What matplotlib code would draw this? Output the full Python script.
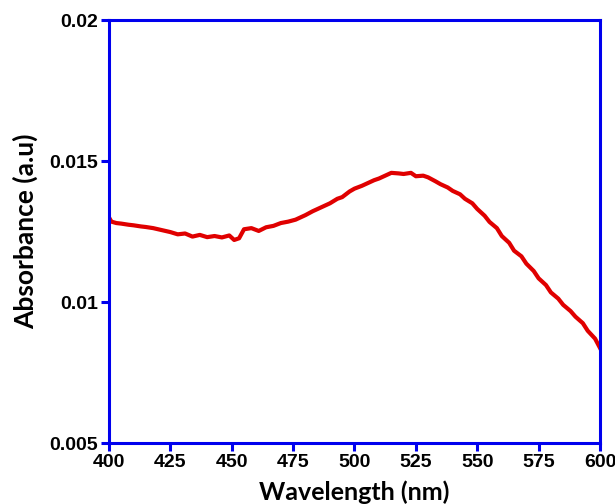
import matplotlib
matplotlib.use("Agg")
import matplotlib.pyplot as plt

# absorbance spectrum
wavelength = [400, 401, 403, 405, 408, 410, 413, 415, 418, 420, 423, 425, 428,
              431, 434, 437, 440, 443, 446, 449, 451, 453, 455, 458, 461, 464,
              467, 470, 473, 476, 478, 480, 483, 485, 488, 490, 493, 495, 498,
              500, 503, 505, 508, 510, 513, 515, 518, 520, 523, 525, 528, 530,
              533, 535, 538, 540, 543, 545, 548, 550, 553, 555, 558, 560, 563,
              565, 568, 570, 573, 575, 578, 580, 583, 585, 588, 590, 593, 595,
              598, 600]
absorbance = [0.01300, 0.01285, 0.01280, 0.01278, 0.01274, 0.01272, 0.01268,
              0.01266, 0.01262, 0.01258, 0.01252, 0.01248, 0.01240, 0.01243,
              0.01232, 0.01238, 0.01230, 0.01234, 0.01229, 0.01236, 0.01220,
              0.01226, 0.01258, 0.01262, 0.01252, 0.01265, 0.01270, 0.01280,
              0.01285, 0.01292, 0.01300, 0.01308, 0.01322, 0.01330, 0.01342,
              0.01350, 0.01366, 0.01372, 0.01392, 0.01402, 0.01412, 0.01420,
              0.01432, 0.01438, 0.01450, 0.01458, 0.01456, 0.01454, 0.01458,
              0.01446, 0.01448, 0.01442, 0.01428, 0.01418, 0.01406, 0.01394,
              0.01382, 0.01366, 0.01350, 0.01330, 0.01306, 0.01284, 0.01262,
              0.01234, 0.01210, 0.01182, 0.01162, 0.01136, 0.01110, 0.01084,
              0.01060, 0.01034, 0.01012, 0.00990, 0.00968, 0.00948, 0.00925,
              0.00898, 0.00870, 0.00837]

x_ticks = [400, 425, 450, 475, 500, 525, 550, 575, 600]
y_ticks = [0.005, 0.01, 0.015, 0.02]
y_tick_labels = ["0.005", "0.01", "0.015", "0.02"]

blue = "#0000ee"

fig = plt.figure(figsize=(6.15, 5.04), dpi=100)
ax = fig.add_axes([0.1772, 0.1210, 0.7984, 0.8393])

ax.plot(wavelength, absorbance, color="#e00000", lw=3.0, solid_joinstyle="round")

ax.set_xlim(400, 600)
ax.set_ylim(0.005, 0.02)
ax.set_xticks(x_ticks)
ax.set_yticks(y_ticks)
ax.set_yticklabels(y_tick_labels)

for s in ax.spines.values():
    s.set_color(blue)
    s.set_linewidth(2.2)

ax.tick_params(axis="both", direction="out", length=6, width=2.2, color=blue,
               labelsize=14, pad=2)
for lab in ax.get_xticklabels() + ax.get_yticklabels():
    lab.set_fontfamily("Liberation Sans")
    lab.set_fontweight("bold")

ax.set_xlabel("Wavelength (nm)", fontsize=18, fontweight="bold",
              family="Lato", labelpad=7)
ax.set_ylabel("Absorbance (a.u)", fontsize=19, fontweight="bold",
              family="Lato", labelpad=8)

fig.savefig("out.png", dpi=100)
